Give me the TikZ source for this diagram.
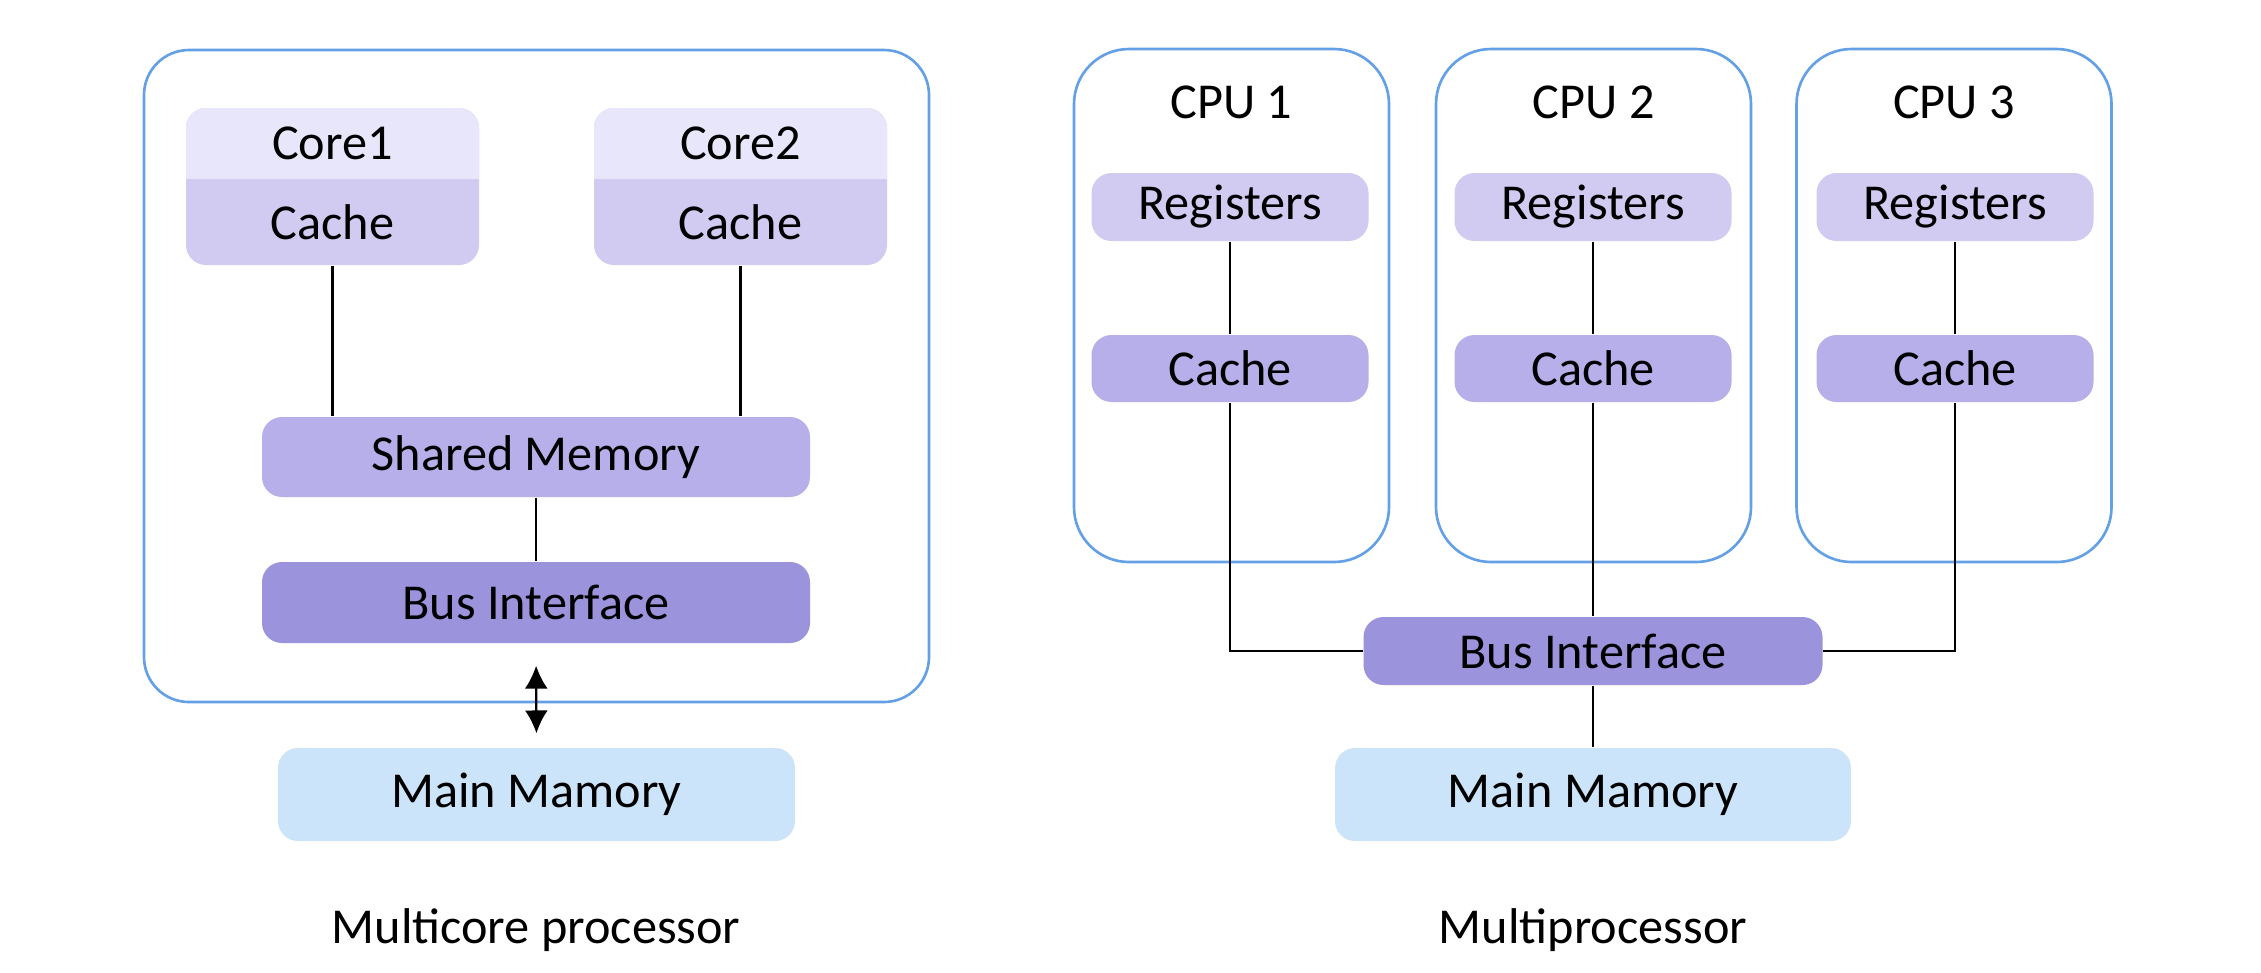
\documentclass[tikz,border=0pt]{standalone}
\usepackage{fontspec}
\setmainfont{Carlito}
\usetikzlibrary{arrows.meta}
\definecolor{bordblue}{HTML}{64A0E6}
\definecolor{coretop}{HTML}{E8E6FB}
\definecolor{lightpurp}{HTML}{D1CAF1}
\definecolor{midpurp}{HTML}{B7AFE9}
\definecolor{darkpurp}{HTML}{9B93DC}
\definecolor{mainmem}{HTML}{CBE4FA}
\begin{document}
\begin{tikzpicture}[y=-1cm,
  every node/.style={font=\fontsize{14.3}{17}\selectfont, inner sep=0pt},
  outerbox/.style={draw=bordblue, line width=0.75pt, fill=white},
  blk/.style={rounded corners=0.2cm, draw=none},
  conn/.style={line width=0.65pt, black}]
\useasboundingbox (0,0) rectangle (22.61,9.72);
\fill[white] (0,0) rectangle (22.61,9.72);

% ---------- Multicore processor ----------
\node[outerbox, rounded corners=0.45cm, minimum width=7.85cm, minimum height=6.52cm] (chip) at (5.365,3.76) {};

\node[blk, fill=lightpurp, minimum width=2.93cm, minimum height=1.57cm] (core1box) at (3.325,1.865) {};
\fill[coretop] (1.86,1.79) {[rounded corners=0.2cm] -- (1.86,1.08) -- (4.79,1.08)} -- (4.79,1.79) -- cycle;
\node (core1) at (3.325,1.435) {Core1};
\node (cache1) at (3.325,2.22) {Cache};

\node[blk, fill=lightpurp, minimum width=2.93cm, minimum height=1.57cm] (core2box) at (7.405,1.865) {};
\fill[coretop] (5.94,1.79) {[rounded corners=0.2cm] -- (5.94,1.08) -- (8.87,1.08)} -- (8.87,1.79) -- cycle;
\node (core2) at (7.405,1.435) {Core2};
\node (cache2) at (7.405,2.22) {Cache};

\node[blk, fill=midpurp, minimum width=5.48cm, minimum height=0.8cm] (shm) at (5.36,4.57) {Shared Memory};
\node[blk, fill=darkpurp, minimum width=5.48cm, minimum height=0.81cm] (bus1) at (5.36,6.025) {Bus Interface};
\node[blk, fill=mainmem, minimum width=5.17cm, minimum height=0.93cm] (mm1) at (5.365,7.945) {Main Mamory};
\node (lab1) at (5.36,9.30) {Multicore processor};

\draw[conn] (core1box.south) -- (core1box.south |- shm.north);
\draw[conn] (core2box.south) -- (core2box.south |- shm.north);
\draw[conn] (shm.south) -- (bus1.north);
\draw[conn, {Latex[length=6.5pt,width=6.5pt]}-{Latex[length=6.5pt,width=6.5pt]}, shorten <=0.22cm, shorten >=0.14cm] (bus1.south) -- (mm1.north);

% ---------- Multiprocessor ----------
\foreach \i/\cx/\lx in {1/12.315/12.30, 2/15.935/15.93, 3/19.54/19.55} {
  \node[outerbox, rounded corners=0.55cm, minimum width=3.15cm, minimum height=5.13cm] (cpu\i) at (\cx,3.055) {};
  \node (cpulab\i) at (\cx,1.02) {CPU \i};
  \node[blk, fill=lightpurp, minimum width=2.77cm, minimum height=0.68cm] (reg\i) at (\lx,2.07) {Registers};
  \node[blk, fill=midpurp, minimum width=2.77cm, minimum height=0.67cm] (rc\i) at (\lx,3.685) {Cache};
  \draw[conn] (reg\i.south) -- (rc\i.north);
}
\node[blk, fill=darkpurp, minimum width=4.59cm, minimum height=0.68cm] (bus2) at (15.93,6.51) {Bus Interface};
\node[blk, fill=mainmem, minimum width=5.16cm, minimum height=0.93cm] (mm2) at (15.93,7.945) {Main Mamory};
\node (lab2) at (15.93,9.30) {Multiprocessor};

\draw[conn] (rc1.south) |- (bus2.west);
\draw[conn] (rc2.south) -- (bus2.north);
\draw[conn] (rc3.south) |- (bus2.east);
\draw[conn] (bus2.south) -- (mm2.north);
\end{tikzpicture}
\end{document}
